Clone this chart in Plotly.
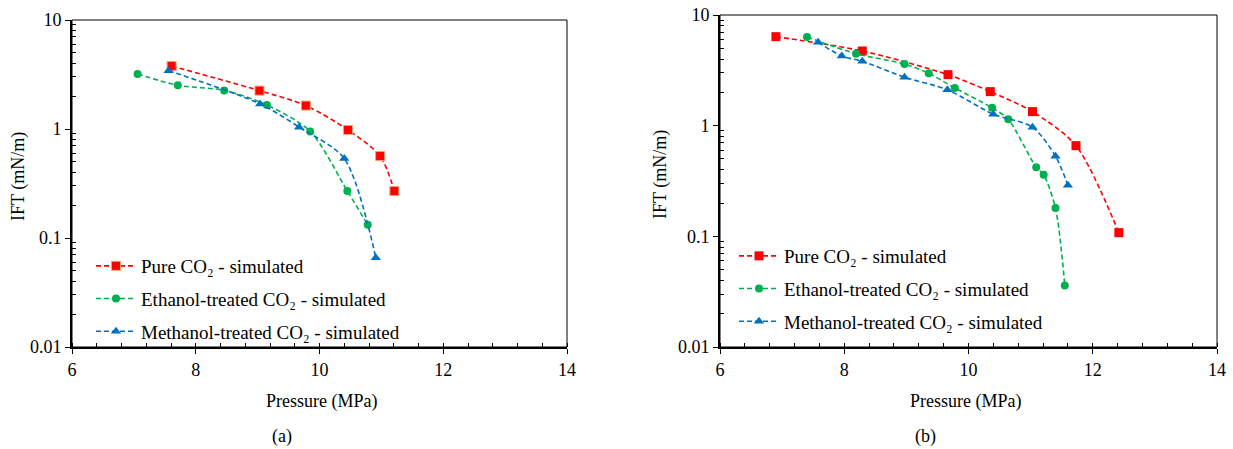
import plotly.graph_objects as go

# ---------------- Data: panel (a) ----------------
a_pure_p = [7.61, 9.03, 9.78, 10.46, 10.98, 11.21]
a_pure_ift = [3.78, 2.25, 1.64, 0.98, 0.565, 0.27]
a_eth_p = [7.06, 7.71, 8.46, 9.15, 9.85, 10.45, 10.78]
a_eth_ift = [3.2, 2.52, 2.26, 1.66, 0.95, 0.27, 0.132]
a_meth_p = [7.56, 9.04, 9.67, 10.40, 10.91]
a_meth_ift = [3.43, 1.70, 1.04, 0.535, 0.066]

# ---------------- Data: panel (b) ----------------
b_pure_p = [6.90, 8.29, 9.67, 10.35, 11.03, 11.73, 12.42]
b_pure_ift = [6.37, 4.73, 2.89, 2.03, 1.34, 0.66, 0.108]
b_eth_p = [7.40, 8.19, 8.97, 9.36, 9.78, 10.38, 10.64, 11.09, 11.21, 11.40, 11.55]
b_eth_ift = [6.33, 4.47, 3.61, 2.97, 2.19, 1.45, 1.14, 0.42, 0.36, 0.18, 0.036]
b_meth_p = [7.58, 7.96, 8.29, 8.97, 9.66, 10.40, 11.03, 11.40, 11.60]
b_meth_ift = [5.66, 4.26, 3.82, 2.74, 2.11, 1.27, 0.97, 0.53, 0.29]

x_ticks = [6, 8, 10, 12, 14]
y_ticks = [0.01, 0.1, 1, 10]
y_ticktext = ["0.01", "0.1", "1", "10"]
names = ["Pure CO₂ - simulated", "Ethanol-treated CO₂ - simulated", "Methanol-treated CO₂ - simulated"]

RED, GREEN, BLUE = "#FF0000", "#00B050", "#0070C0"
FONT = "Liberation Serif"
FS = 18
LFS = 19

y_minor = [m * 10 ** e for e in (-2, -1, 0) for m in range(2, 10)]

fig = go.Figure()

def add_series(px, py, name, color, symbol, size, xa, ya, legend, mline=None):
    fig.add_trace(go.Scatter(
        x=px, y=py, name=name, mode="lines+markers",
        line=dict(color=color, width=1.6, dash="5px,3px", shape="spline", smoothing=0.8),
        marker=dict(color=color, symbol=symbol, size=size,
                    line=dict(color=mline or color, width=1 if mline else 0)),
        xaxis=xa, yaxis=ya, legend=legend, legendgroup=legend + name,
    ))

add_series(a_pure_p, a_pure_ift, names[0], RED, "square", 9, "x", "y", "legend", "#F8A070")
add_series(a_eth_p, a_eth_ift, names[1], GREEN, "circle", 8, "x", "y", "legend")
add_series(a_meth_p, a_meth_ift, names[2], BLUE, "triangle-up", 9, "x", "y", "legend")
add_series(b_pure_p, b_pure_ift, names[0], RED, "square", 9, "x2", "y2", "legend2")
add_series(b_eth_p, b_eth_ift, names[1], GREEN, "circle", 8, "x2", "y2", "legend2")
add_series(b_meth_p, b_meth_ift, names[2], BLUE, "triangle-up", 9, "x2", "y2", "legend2")

W, H = 1233, 449
def px2x(v): return v / W
def px2y(v): return 1 - v / H

dom_a_x = [px2x(72), px2x(567)]
dom_a_y = [px2y(347), px2y(20)]
dom_b_x = [px2x(720), px2x(1217)]
dom_b_y = [px2y(347), px2y(15)]

tickfont = dict(family=FONT, size=FS, color="black")

def xaxis(domain, anchor):
    return dict(domain=domain, anchor=anchor, range=[6, 14], tickvals=x_ticks,
                ticks="outside", ticklen=5, tickwidth=1.3, tickcolor="black",
                minor=dict(ticks="inside", tickvals=[6 + 0.4 * i for i in range(21)],
                           ticklen=4, tickwidth=1, tickcolor="black"),
                showline=True, linewidth=2, linecolor="black", automargin=False,
                ticklabeloverflow="allow",
                showgrid=False, zeroline=False, tickfont=tickfont, fixedrange=True)

def yaxis(domain, anchor):
    return dict(domain=domain, anchor=anchor, type="log", range=[-2, 1],
                tickvals=y_ticks, ticktext=y_ticktext,
                ticks="outside", ticklen=5, tickwidth=1.3, tickcolor="black",
                minor=dict(ticks="inside", tickvals=y_minor, ticklen=4,
                           tickwidth=1, tickcolor="black"),
                showline=True, linewidth=2, linecolor="black", automargin=False,
                ticklabeloverflow="allow",
                showgrid=False, zeroline=False, tickfont=tickfont, fixedrange=True)

def xover(base, anchor):
    return dict(overlaying=base, anchor=anchor, range=[6, 14], tickvals=x_ticks,
                ticks="inside", ticklen=5, tickwidth=1.3, tickcolor="black", automargin=False,
                showticklabels=False, showline=False, showgrid=False, zeroline=False)

def yover(base, anchor):
    return dict(overlaying=base, anchor=anchor, type="log", range=[-2, 1], tickvals=y_ticks,
                ticks="inside", ticklen=5, tickwidth=1.3, tickcolor="black", automargin=False,
                showticklabels=False, showline=False, showgrid=False, zeroline=False)

legend_common = dict(font=dict(family=FONT, size=LFS, color="black"),
                     bgcolor="rgba(0,0,0,0)", tracegroupgap=5, itemwidth=40,
                     xanchor="left", yanchor="top", traceorder="grouped")

fig.update_layout(
    template="none",
    width=W, height=H, autosize=False,
    margin=dict(l=0, r=0, t=0, b=0, autoexpand=False),
    paper_bgcolor="white", plot_bgcolor="white",
    font=dict(family=FONT, size=FS, color="black"),
    xaxis=xaxis(dom_a_x, "y"), yaxis=yaxis(dom_a_y, "x"),
    xaxis2=xaxis(dom_b_x, "y2"), yaxis2=yaxis(dom_b_y, "x2"),
    xaxis3=xover("x", "y"), yaxis3=yover("y", "x"),
    xaxis4=xover("x2", "y2"), yaxis4=yover("y2", "x2"),
    legend=dict(x=px2x(91), y=px2y(247), **legend_common),
    legend2=dict(x=px2x(734), y=px2y(237), **legend_common),
    showlegend=True,
)

# plot frame (thin top/right border)
for xr, yr in (("x domain", "y domain"), ("x2 domain", "y2 domain")):
    fig.add_shape(type="rect", xref=xr, yref=yr, x0=0, x1=1, y0=0, y1=1,
                  line=dict(color="black", width=1), layer="below")

ann_font = dict(family=FONT, size=FS, color="black")
annots = [
    ("IFT (mN/m)", 18, 177, -90),
    ("IFT (mN/m)", 661, 175, -90),
    ("Pressure (MPa)", 321, 401, 0),
    ("Pressure (MPa)", 965, 401, 0),
    ("(a)", 282, 436, 0),
    ("(b)", 925, 436, 0),
]
for text, ax_, ay_, ang in annots:
    fig.add_annotation(text=text, x=px2x(ax_), y=px2y(ay_), xref="paper", yref="paper",
                       showarrow=False, textangle=ang, font=ann_font,
                       xanchor="center", yanchor="middle")

fig.write_html("out.html", config={"displayModeBar": False},
               post_script="document.body.style.margin='0';document.body.style.padding='0';")
